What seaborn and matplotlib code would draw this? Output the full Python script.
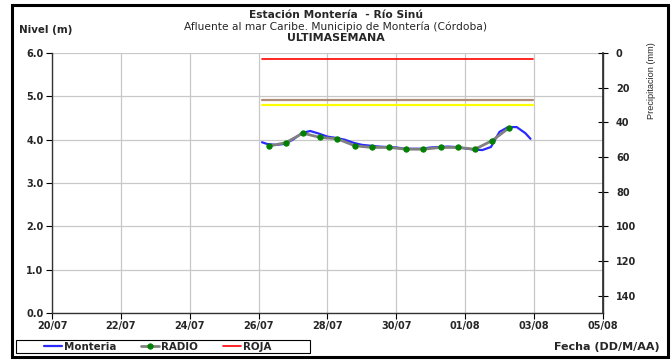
import matplotlib
matplotlib.use("Agg")
import matplotlib.pyplot as plt
import matplotlib.dates as mdates
from matplotlib.patches import Rectangle
import numpy as np
import pandas as pd
import seaborn as sns

sns.set_theme(style="white")
plt.rcParams['font.family'] = ['DejaVu Sans']

# ---------------- data ----------------
base = pd.Timestamp("2021-07-20")
monteria_days = [6.1, 6.25, 6.5, 6.75, 7.0, 7.25, 7.5, 7.75, 8.0, 8.25, 8.5, 8.75,
                 9.0, 9.25, 9.5, 9.75, 10.0, 10.25, 10.5, 10.75, 11.0, 11.25, 11.5,
                 11.75, 12.0, 12.25, 12.5, 12.75, 13.0, 13.25, 13.5, 13.75, 13.9]
monteria_vals = [3.94, 3.90, 3.88, 3.90, 4.00, 4.15, 4.20, 4.14, 4.07, 4.04, 4.00, 3.93,
                 3.88, 3.86, 3.84, 3.83, 3.82, 3.79, 3.79, 3.79, 3.82, 3.83, 3.84,
                 3.83, 3.80, 3.77, 3.76, 3.83, 4.18, 4.29, 4.29, 4.15, 4.02]
radio_days = [6.29, 6.79, 7.29, 7.79, 8.29, 8.79, 9.29, 9.79, 10.29, 10.79, 11.29,
              11.79, 12.29, 12.79, 13.29]
radio_vals = [3.85, 3.93, 4.15, 4.05, 4.02, 3.86, 3.82, 3.82, 3.78, 3.78, 3.82,
              3.82, 3.78, 3.98, 4.28]
threshold_span = [6.1, 13.97]
roja_level = 5.87
naranja_level = 4.91
amarilla_level = 4.81
xtick_days = [0, 2, 4, 6, 8, 10, 12, 14, 16]
precip_ticks = [0, 20, 40, 60, 80, 100, 120, 140]

def to_dt(days):
    return [base + pd.Timedelta(days=d) for d in days]

mon = pd.DataFrame({"fecha": to_dt(monteria_days), "nivel": monteria_vals})
rad = pd.DataFrame({"fecha": to_dt(radio_days), "nivel": radio_vals})
span = to_dt(threshold_span)

# ---------------- figure ----------------
fig = plt.figure(figsize=(6.72, 3.6), dpi=100)
ax = fig.add_axes([0.0774, 0.1306, 0.8196, 0.7222])

sns.lineplot(data=mon, x="fecha", y="nivel", ax=ax, color="#2a2aff", lw=1.6,
             label="Monteria", zorder=4)
sns.lineplot(data=rad, x="fecha", y="nivel", ax=ax, color="#808080", lw=2.0,
             marker="o", markersize=3.8, markerfacecolor="#008000",
             markeredgecolor="#008000", label="RADIO", zorder=5)
sns.lineplot(x=span, y=[roja_level, roja_level], ax=ax, color="#ff0000", lw=1.2,
             label="ROJA", zorder=3)
sns.lineplot(x=span, y=[naranja_level, naranja_level], ax=ax, color="#b08c78",
             lw=1.6, zorder=3)
sns.lineplot(x=span, y=[amarilla_level, amarilla_level], ax=ax, color="#ffff00",
             lw=1.6, zorder=3)

ax.set_xlim(base, base + pd.Timedelta(days=16))
ax.set_ylim(0, 6)
ax.set_xticks(to_dt(xtick_days))
ax.xaxis.set_major_formatter(mdates.DateFormatter("%d/%m"))
ax.set_yticks(np.arange(0, 6.01, 1.0))
ax.yaxis.set_major_formatter(matplotlib.ticker.FormatStrFormatter("%.1f"))
ax.grid(True, color="#c8c8c8", lw=0.9)
ax.set_xlabel("")
ax.set_ylabel("")
for lbl in ax.get_xticklabels() + ax.get_yticklabels():
    lbl.set_fontweight("bold")
    lbl.set_fontsize(7)
ax.tick_params(axis="both", which="major", length=4, width=0.8, color="black",
               direction="out", pad=2, bottom=True, left=True)
for s in ["left", "bottom"]:
    ax.spines[s].set_color("#333333")
    ax.spines[s].set_linewidth(1.0)
ax.spines["top"].set_visible(False)
ax.spines["right"].set_color("#333333")
ax.spines["right"].set_linewidth(1.0)
ax.legend_.remove()

ax2 = ax.twinx()
ax2.set_ylim(150, 0)
ax2.set_yticks(precip_ticks)
ax2.tick_params(axis="y", direction="inout", length=7, width=0.8, color="black",
                labelsize=7, pad=6)
for lbl in ax2.get_yticklabels():
    lbl.set_fontweight("bold")
for s in ["top", "left", "bottom"]:
    ax2.spines[s].set_visible(False)
ax2.spines["right"].set_color("#333333")
ax2.grid(False)
fig.text(0.969, 0.775, "Precipitacion (mm)", rotation=90, ha="center", va="center",
         fontsize=6.6, family=["Liberation Sans", "DejaVu Sans"])

# titles
fig.text(0.5, 0.957, "Estación Montería  - Río Sinú", ha="center", va="center",
         fontsize=7.7, fontweight="bold")
fig.text(0.5, 0.925, "Afluente al mar Caribe. Municipio de Montería (Córdoba)",
         ha="center", va="center", fontsize=7.7)
fig.text(0.5, 0.894, "ULTIMASEMANA", ha="center", va="center", fontsize=7.9,
         fontweight="bold")
fig.text(0.028, 0.917, "Nivel (m)", ha="left", va="center", fontsize=7.4,
         fontweight="bold")
fig.text(0.981, 0.036, "Fecha (DD/M/AA)", ha="right", va="center", fontsize=8,
         fontweight="bold")

# legend (frame drawn separately to match the wide box of the reference)
h, l = ax.get_legend_handles_labels()
leg = fig.legend(h[:3], l[:3], loc="center left",
                 bbox_to_anchor=(0.066, 1 - 347 / 360),
                 ncol=3, fontsize=7.4, frameon=False,
                 handlelength=1.75, handletextpad=0.2, columnspacing=2.4,
                 borderpad=0.0, borderaxespad=0)
for t in leg.get_texts():
    t.set_fontweight("bold")
fig.patches.append(Rectangle((0.0238, 0.0194), 0.4375, 0.035,
                             transform=fig.transFigure, fill=False,
                             edgecolor="black", lw=0.8))

# outer frame
fig.patches.append(Rectangle((0.018, 0.008), 0.976, 0.978, transform=fig.transFigure,
                             fill=False, edgecolor="black", lw=2.2))

fig.savefig("out.png", dpi=100)
